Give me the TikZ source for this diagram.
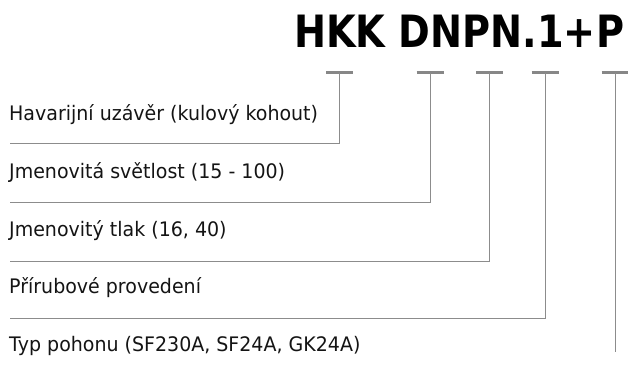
\documentclass[tikz,border=0pt]{standalone}
\usepackage{fontspec}
\setmainfont{DejaVu Sans}
\newcommand{\lbltext}[1]{\scalebox{0.95}[1]{#1}}
\begin{document}
\begin{tikzpicture}[x=1pt,y=-1pt]
\useasboundingbox (0,0) rectangle (628,365);
\tikzset{
  lbl/.style={anchor=base west, inner sep=0pt, font=\fontsize{20}{23}\selectfont, text=black!92},
  bar/.style={draw=black!47, line width=3pt},
  leader/.style={draw=black!45, line width=1pt}
}
\node[anchor=base west, inner sep=0pt] (title) at (294,47.5)
  {\fontsize{44.5}{50}\selectfont\bfseries\scalebox{0.86}[1]{HKK DNPN.1+P}};

% tick bars
\coordinate (t1) at (339.5,72.5);
\coordinate (t2) at (430,72.5);
\coordinate (t3) at (489.5,72.5);
\coordinate (t4) at (545,72.5);
\coordinate (t5) at (615,72.5);
\foreach \t in {t1,t2,t3,t4,t5}
  \draw[bar] ([xshift=-13.5pt]\t) -- ([xshift=13.5pt]\t);

% labels
\node[lbl] (l1) at (9,120) {\lbltext{Havarijní uzávěr (kulový kohout)}};
\node[lbl] (l2) at (9,178) {\lbltext{Jmenovitá světlost (15 - 100)}};
\node[lbl] (l3) at (9,236) {\lbltext{Jmenovitý tlak (16, 40)}};
\node[lbl] (l4) at (9,293) {\lbltext{Přírubové provedení}};
\node[lbl] (l5) at (9,351) {\lbltext{Typ pohonu (SF230A, SF24A, GK24A)}};

% leader ends
\coordinate (e1) at (10,143);
\coordinate (e2) at (10,202);
\coordinate (e3) at (10,261);
\coordinate (e4) at (10,318);
\coordinate (e5) at (615,352);

\draw[leader] (t1) |- (e1);
\draw[leader] (t2) |- (e2);
\draw[leader] (t3) |- (e3);
\draw[leader] (t4) |- (e4);
\draw[leader] (t5) -- (e5);
\end{tikzpicture}
\end{document}
